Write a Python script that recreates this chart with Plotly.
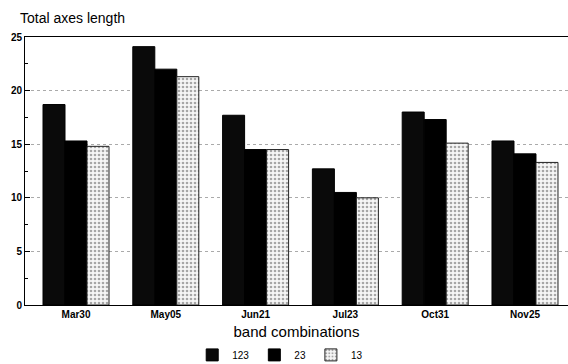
import plotly.graph_objects as go

categories = ["Mar30", "May05", "Jun21", "Jul23", "Oct31", "Nov25"]
series_names = ["123", "23", "13"]
v123 = [18.7, 24.1, 17.7, 12.7, 18.0, 15.3]
v23 = [15.3, 22.0, 14.5, 10.5, 17.3, 14.1]
v13 = [14.8, 21.3, 14.5, 10.0, 15.1, 13.3]
y_ticks = [0, 5, 10, 15, 20, 25]

fig = go.Figure()
fig.add_bar(x=categories, y=v123, name=series_names[0],
            marker=dict(color="#0a0a0a", line=dict(color="#000", width=1)))
fig.add_bar(x=categories, y=v23, name=series_names[1],
            marker=dict(color="#000000", line=dict(color="#000", width=1)))
fig.add_bar(x=categories, y=v13, name=series_names[2],
            marker=dict(color="#e0e0e0", line=dict(color="#222", width=1),
                        pattern=dict(shape=".", fgcolor="#555", bgcolor="#f6f6f6",
                                     size=4, solidity=0.35)))

fig.update_layout(
    width=568, height=364,
    margin=dict(l=25, r=0, t=37, b=59, autoexpand=False),
    paper_bgcolor="white", plot_bgcolor="white",
    barmode="group", bargap=0.265, bargroupgap=0,
    font=dict(family="Liberation Sans, Arial, sans-serif", color="#000"),
    showlegend=True,
    legend=dict(orientation="h", x=0.47, xanchor="center",
                yref="container", y=0.025, yanchor="middle",
                font=dict(size=10, family="Liberation Sans"),
                itemwidth=30, tracegroupgap=0),
    annotations=[dict(text="Total axes length", xref="paper", yref="paper",
                      x=-0.013, y=1.0, xanchor="left", yanchor="bottom", yshift=9,
                      showarrow=False, font=dict(size=14, family="Liberation Sans"))],
)
fig.update_xaxes(
    range=[-0.568, 5.479],
    showline=True, linecolor="#000", linewidth=1, mirror=True,
    ticks="", tickfont=dict(size=10, family="Liberation Sans", weight="bold"),
    title=dict(text="band combinations", font=dict(size=15), standoff=15),
)
fig.update_yaxes(
    range=[0, 25], tickvals=y_ticks, showline=True, linecolor="#000", linewidth=1,
    mirror=False, ticks="inside", ticklen=5, tickcolor="#000",
    tickfont=dict(size=10, family="Liberation Sans", weight="bold"),
    showgrid=True, gridcolor="#aaa", griddash="dot", gridwidth=1,
    minor=dict(dtick=2.5, ticks="inside", ticklen=3, tickcolor="#000", showgrid=False),
)

fig.write_html("out.html")
